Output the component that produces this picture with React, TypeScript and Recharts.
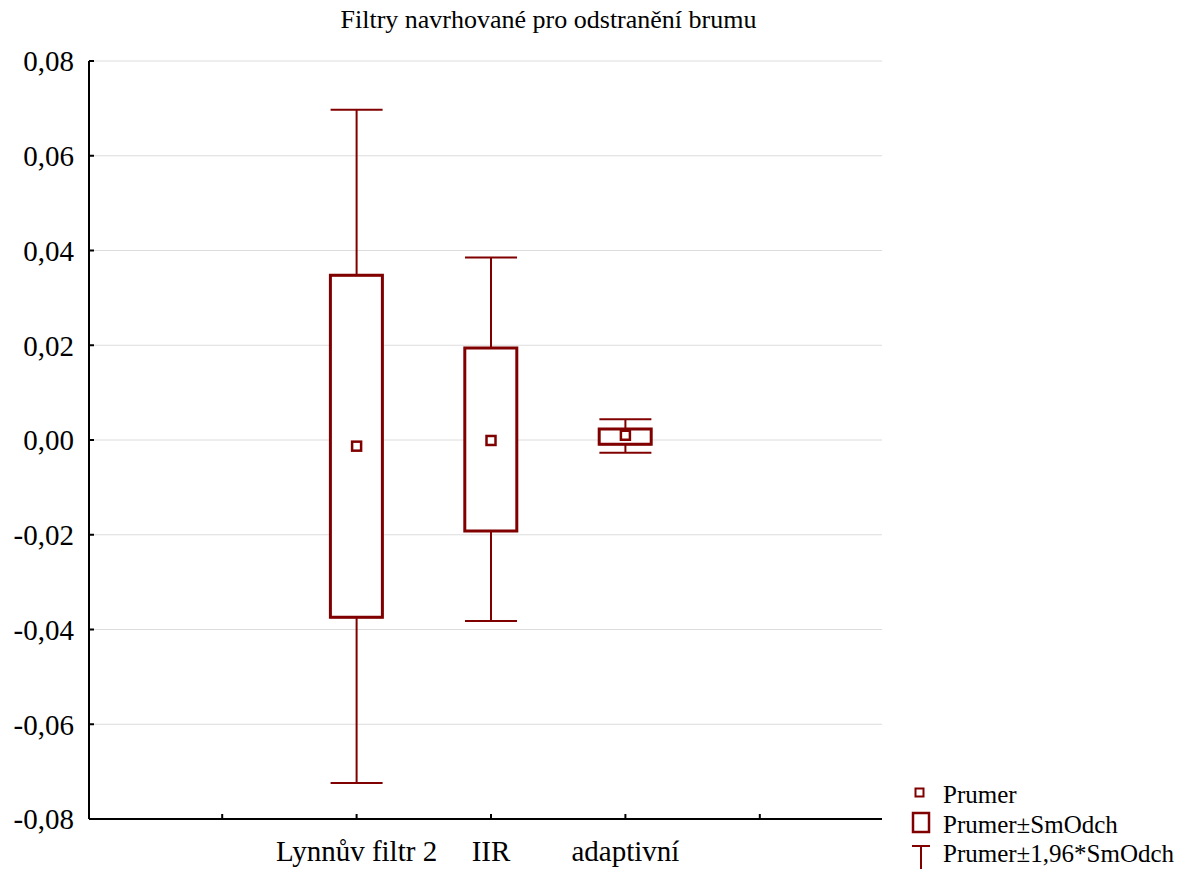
import React from "react";
import {
  ComposedChart,
  Bar,
  Line,
  Scatter,
  ErrorBar,
  XAxis,
  YAxis,
  CartesianGrid,
} from "recharts";

// ---- data ----
const categories = ["", "Lynnův filtr 2", "IIR", "adaptivní", ""];
const means: (number | null)[] = [null, -0.0013, -0.0001, 0.001, null];
const boxLow: (number | null)[] = [null, -0.0374, -0.0192, -0.0009, null];
const boxHigh: (number | null)[] = [null, 0.0348, 0.0194, 0.0023, null];
const whiskerLow: (number | null)[] = [null, -0.0724, -0.0382, -0.0027, null];
const whiskerHigh: (number | null)[] = [null, 0.0697, 0.0385, 0.0044, null];
const yTicks = [-0.08, -0.06, -0.04, -0.02, 0, 0.02, 0.04, 0.06, 0.08];

const title = "Filtry navrhované pro odstranění brumu";
const legendLabels = ["Prumer", "Prumer±SmOdch", "Prumer±1,96*SmOdch"];

const COLOR = "#800000";
const FONT = "'Liberation Serif', 'Times New Roman', serif";

const data = categories.map((name, i) => {
  const lo = boxLow[i];
  const hi = boxHigh[i];
  const wl = whiskerLow[i];
  const wh = whiskerHigh[i];
  const has = lo != null && hi != null && wl != null && wh != null;
  return {
    name,
    mean: means[i],
    box: has ? [lo, hi] : null,
    upper: has ? hi : null,
    upperErr: has ? [0, (wh as number) - (hi as number)] : null,
    lower: has ? lo : null,
    lowerErr: has ? [(lo as number) - (wl as number), 0] : null,
  };
});

const fmt = (v: number) => {
  const s = Math.abs(v) < 1e-9 ? "0.00" : v.toFixed(2);
  return s.replace(".", ",");
};

const MeanShape = (props: any) => {
  const { cx, cy } = props;
  if (cx == null || cy == null) return null;
  return (
    <rect
      x={cx - 4.5}
      y={cy - 4.5}
      width={9}
      height={9}
      fill="#fff"
      stroke={COLOR}
      strokeWidth={2.5}
    />
  );
};

const W = 1184;
const H = 869;
const xPad = { left: 66, right: 55 };

export default function App() {
  return (
    <div
      style={{
        position: "absolute",
        left: 0,
        top: 0,
        width: W,
        height: H,
        background: "#fff",
        overflow: "hidden",
      }}
    >
      <ComposedChart
        width={W}
        height={H}
        data={data}
        margin={{ top: 61, right: 302, bottom: 0, left: 9 }}
      >
        <CartesianGrid vertical={false} stroke="#dcdcdc" strokeWidth={1} />
        <XAxis
          dataKey="name"
          type="category"
          padding={xPad}
          height={50}
          interval={0}
          tickSize={-5}
          tickMargin={26}
          axisLine={{ stroke: "#000", strokeWidth: 2 }}
          tickLine={{ stroke: "#000", strokeWidth: 2 }}
          tick={{ fill: "#000", fontSize: 29, fontFamily: FONT }}
        />
        <XAxis
          xAxisId="top"
          orientation="top"
          dataKey="name"
          type="category"
          padding={xPad}
          height={0}
          tick={false}
          tickLine={false}
          axisLine={{ stroke: "#000", strokeWidth: 2 }}
        />
        <YAxis
          type="number"
          domain={[-0.08, 0.08]}
          ticks={yTicks}
          interval={0}
          width={80}
          tickSize={-5}
          tickMargin={20}
          tickFormatter={fmt}
          axisLine={{ stroke: "#000", strokeWidth: 2 }}
          tickLine={{ stroke: "#000", strokeWidth: 2 }}
          tick={{ fill: "#000", fontSize: 29, fontFamily: FONT }}
        />
        <YAxis
          yAxisId="right"
          orientation="right"
          type="number"
          domain={[-0.08, 0.08]}
          width={0}
          tick={false}
          tickLine={false}
          axisLine={{ stroke: "#000", strokeWidth: 2 }}
        />
        <Line
          dataKey="upper"
          stroke="none"
          dot={false}
          activeDot={false}
          isAnimationActive={false}
        >
          <ErrorBar
            dataKey="upperErr"
            width={26}
            stroke={COLOR}
            strokeWidth={2}
            isAnimationActive={false}
          />
        </Line>
        <Line
          dataKey="lower"
          stroke="none"
          dot={false}
          activeDot={false}
          isAnimationActive={false}
        >
          <ErrorBar
            dataKey="lowerErr"
            width={26}
            stroke={COLOR}
            strokeWidth={2}
            isAnimationActive={false}
          />
        </Line>
        <Bar
          dataKey="box"
          barSize={52}
          fill="#fff"
          stroke={COLOR}
          strokeWidth={3}
          isAnimationActive={false}
        />
        <Scatter
          dataKey="mean"
          shape={<MeanShape />}
          isAnimationActive={false}
        />
      </ComposedChart>
      <svg
        width={W}
        height={H}
        style={{ position: "absolute", left: 0, top: 0, pointerEvents: "none" }}
      >
        <text
          x={548.5}
          y={28}
          textAnchor="middle"
          fontFamily={FONT}
          fontSize={26}
          fill="#000"
        >
          {title}
        </text>
        <rect x={915.5} y={788.5} width={8} height={8} fill="#fff" stroke={COLOR} strokeWidth={2} />
        <text x={943} y={803} fontFamily={FONT} fontSize={25} fill="#000">
          {legendLabels[0]}
        </text>
        <rect x={913} y={813} width={16} height={19} fill="#fff" stroke={COLOR} strokeWidth={2.5} />
        <text x={943} y={833} fontFamily={FONT} fontSize={25} fill="#000">
          {legendLabels[1]}
        </text>
        <line x1={912} x2={930} y1={846} y2={846} stroke={COLOR} strokeWidth={2} />
        <line x1={921} x2={921} y1={846} y2={875} stroke={COLOR} strokeWidth={2} />
        <text x={943} y={862} fontFamily={FONT} fontSize={25} fill="#000">
          {legendLabels[2]}
        </text>
      </svg>
    </div>
  );
}
